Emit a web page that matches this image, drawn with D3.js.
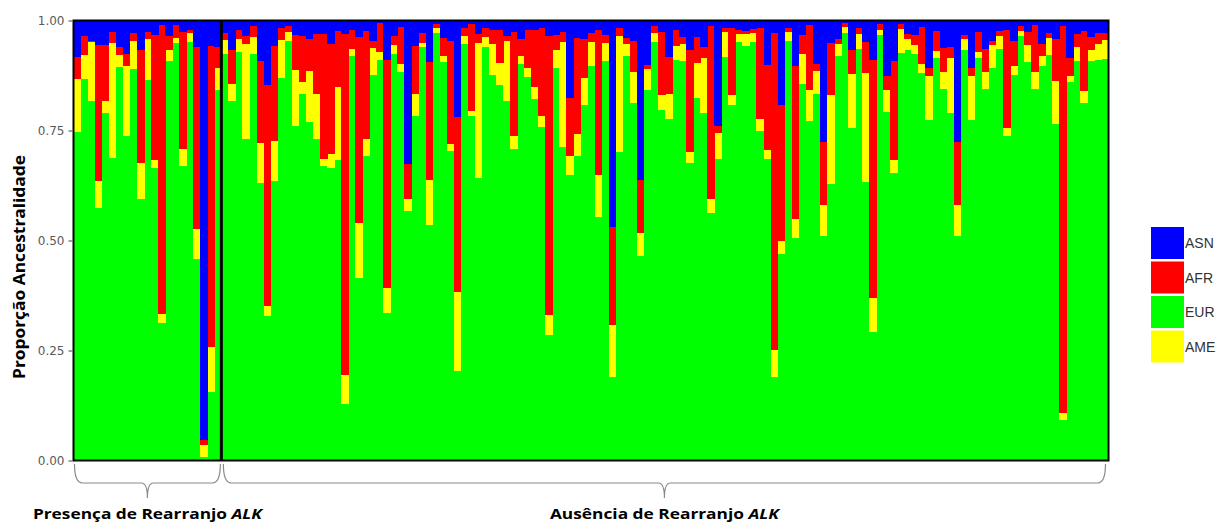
<!DOCTYPE html>
<html>
<head>
<meta charset="utf-8">
<script src="https://cdn.jsdelivr.net/npm/d3@7"></script>
<style>
  html, body { margin: 0; padding: 0; background: #fff; }
  svg { display: block; }
</style>
</head>
<body>
<svg id="chart" width="1228" height="523"></svg>
<script>
// ---------- data (proportions, one value per sample) ----------
const ASN = [
  .084,.036,.046,.055,.055,.027,.061,.076,.029,.068,.027,.033,.010,.036,.011,.025,.021,.061,.954,.057,.061,
  .028,.068,.021,.036,.013,.091,.147,.059,.017,.013,.033,.036,.043,.030,.030,.053,.023,.030,.021,.038,.023,.047,.006,.089,.036,.014,.327,.059,.029,
  .095,.008,.040,.046,.219,.017,.008,.030,.017,.021,.021,.036,.027,.042,.021,.021,.017,.036,.033,.027,.176,.040,.043,.029,.021,
  .033,.469,.017,.040,.046,.363,.101,.013,.027,.084,.021,.037,.066,.038,.061,.013,.240,.017,.017,.021,.023,.019,.017,.101,.029,
  .192,.017,.104,.033,.011,.099,.276,.052,.043,.006,.068,.017,.048,.090,.008,.125,.093,.009,.030,.034,.014,.108,.024,.063,.061,
  .276,.032,.109,.025,.065,.047,.024,.021,.047,.013,.027,.010,.053,.028,.042,.013,.085,.030,.023,.038,.028,.028
];
const AFR = [
  .049,.043,.003,.310,.128,.024,.017,.028,.017,.256,.014,.285,.657,.030,.029,.268,.008,.413,.011,.686,.046,
  .017,.076,.021,.017,.025,.188,.502,.214,.027,.012,.080,.103,.071,.137,.284,.251,.128,.776,.043,.422,.247,.015,.065,.519,.020,.085,.078,.108,.021,
  .268,.009,.040,.234,.397,.019,.198,.021,.021,.032,.075,.010,.236,.038,.087,.129,.201,.633,.033,.021,.132,.218,.088,.019,.331,
  .017,.223,.019,.014,.071,.120,.009,.016,.143,.084,.038,.017,.233,.059,.025,.392,.017,.010,.153,.010,.008,.009,.208,.193,.719,
  .310,.008,.347,.042,.147,.015,.144,.117,.010,.009,.053,.014,.071,.540,.013,.033,.224,.011,.013,.021,.085,.017,.046,.055,.025,
  .144,.011,.017,.046,.053,.008,.011,.223,.056,.010,.029,.106,.027,.011,.095,.879,.040,.030,.137,.028,.025,.017
];
const AME = [
  .120,.053,.134,.062,.027,.261,.028,.158,.065,.081,.095,.017,.021,.025,.011,.038,.020,.068,.027,.101,.052,
  .030,.038,.029,.217,.038,.091,.022,.093,.087,.021,.127,.027,.116,.103,.017,.032,.167,.065,.017,.125,.038,.061,.018,.056,.019,.019,.027,.049,.011,
  .101,.011,.014,.017,.181,.017,.011,.306,.023,.070,.050,.137,.028,.019,.020,.029,.023,.046,.043,.239,.044,.049,.060,.055,.094,
  .043,.118,.262,.027,.070,.053,.048,.021,.034,.057,.030,.038,.024,.080,.125,.033,.058,.055,.023,.019,.028,.021,.027,.020,.062,
  .028,.021,.043,.070,.071,.052,.069,.202,.028,.013,.123,.034,.249,.079,.012,.051,.030,.053,.023,.021,.021,.100,.015,.038,.125,
  .069,.023,.100,.015,.038,.053,.030,.019,.021,.013,.038,.040,.024,.040,.099,.015,.015,.033,.028,.025,.037,.043
];
const EUR = [
  .747,.868,.817,.573,.791,.688,.894,.738,.890,.595,.865,.665,.312,.909,.949,.669,.952,.459,.008,.156,.842,
  .924,.818,.929,.730,.924,.630,.329,.635,.868,.954,.760,.834,.770,.730,.669,.664,.682,.129,.918,.414,.692,.877,.911,.336,.925,.882,.568,.784,.939,
  .536,.972,.906,.703,.203,.947,.783,.643,.939,.877,.854,.817,.709,.901,.872,.821,.759,.285,.891,.713,.648,.692,.808,.897,.555,
  .907,.190,.702,.919,.814,.464,.842,.951,.796,.776,.911,.909,.677,.823,.789,.563,.686,.919,.808,.951,.941,.951,.749,.686,.190,
  .470,.954,.506,.855,.771,.834,.511,.629,.919,.972,.756,.935,.632,.291,.967,.791,.653,.927,.934,.924,.880,.775,.915,.844,.789,
  .511,.934,.774,.914,.844,.892,.935,.737,.876,.964,.906,.844,.896,.921,.764,.093,.860,.906,.812,.909,.910,.911
];
const stackKeys   = ["EUR", "AME", "AFR", "ASN"];          // bottom -> top
const legendKeys  = ["ASN", "AFR", "EUR", "AME"];          // legend order
const colors      = { ASN: "#0000ff", AFR: "#ff0000", EUR: "#00ff00", AME: "#ffff00" };
const groupNames  = ["Presença de Rearranjo", "Ausência de Rearranjo"];
const groupSizes  = [21, 126];
const yTicks      = [0, 0.25, 0.5, 0.75, 1];
const yTitle      = "Proporção Ancestralidade";

(function () {
// ---------- build table ----------
const n = EUR.length;
const samples = d3.range(n);
const rows = samples.map(i => {
  const tot = EUR[i] + AME[i] + AFR[i] + ASN[i];
  return { id: i, EUR: EUR[i] / tot, AME: AME[i] / tot, AFR: AFR[i] / tot, ASN: ASN[i] / tot };
});

const svg = d3.select("#chart");
const pLeft = 73.5, pRight = 1108.5, pTop = 20.5, pBottom = 460.5;

const x = d3.scaleBand().domain(samples).range([pLeft, pRight]).padding(0);
const y = d3.scaleLinear().domain([0, 1]).range([pBottom, pTop]);

const series = d3.stack().keys(stackKeys)(rows);

const gBars = svg.append("g").attr("shape-rendering", "crispEdges");
gBars.selectAll("g.layer")
  .data(series)
  .join("g")
  .attr("class", "layer")
  .attr("fill", d => colors[d.key])
  .selectAll("rect")
  .data(d => d)
  .join("rect")
  .attr("x", d => x(d.data.id))
  .attr("width", x.bandwidth() + 0.6)
  .attr("y", d => y(d[1]))
  .attr("height", d => Math.max(0, y(d[0]) - y(d[1])));

// panel border
svg.append("rect")
  .attr("x", pLeft).attr("y", pTop)
  .attr("width", pRight - pLeft).attr("height", pBottom - pTop)
  .attr("fill", "none").attr("stroke", "#000").attr("stroke-width", 2);

// group divider
const splitX = x(groupSizes[0]);
svg.append("line")
  .attr("x1", splitX).attr("x2", splitX)
  .attr("y1", pTop).attr("y2", pBottom)
  .attr("stroke", "#000").attr("stroke-width", 3);

// y axis
const yAxis = d3.axisLeft(y).tickValues(yTicks).tickFormat(d3.format(".2f")).tickSize(4).tickPadding(4);
const gy = svg.append("g").attr("transform", `translate(${pLeft - 1},0)`).call(yAxis);
gy.select(".domain").remove();
gy.selectAll(".tick line").attr("stroke", "#444");
gy.selectAll(".tick text")
  .attr("fill", "#5a5a5a")
  .style("font-family", "'DejaVu Sans', sans-serif")
  .style("font-size", "12px");

// y title
svg.append("text")
  .attr("transform", "translate(25,267) rotate(-90)")
  .attr("text-anchor", "middle")
  .attr("textLength", 224)
  .attr("lengthAdjust", "spacingAndGlyphs")
  .style("font-family", "'Open Sans', sans-serif")
  .style("font-weight", "700")
  .style("font-size", "16px")
  .attr("fill", "#000")
  .text(yTitle);

// braces + group labels
let start = 0;
groupSizes.forEach((size, gi) => {
  const x0 = x(start) + (gi === 0 ? 1 : 2);
  const x1 = (start + size < n ? x(start + size) - 1 : pRight - 3);
  const xc = (x0 + x1) / 2;
  const yT = 464, yM = 483, yB = 498;
  const p = d3.path();
  p.moveTo(x0, yT);
  p.quadraticCurveTo(x0, yM, x0 + 8, yM);
  p.lineTo(xc - 6, yM);
  p.quadraticCurveTo(xc, yM, xc, yB);
  p.moveTo(xc, yB);
  p.quadraticCurveTo(xc, yM, xc + 6, yM);
  p.lineTo(x1 - 8, yM);
  p.quadraticCurveTo(x1, yM, x1, yT);
  svg.append("path").attr("d", p.toString())
    .attr("fill", "none").attr("stroke", "#8a8a8a").attr("stroke-width", 1.2);

  const t = svg.append("text")
    .attr("x", xc).attr("y", 518.5)
    .attr("text-anchor", "middle")
    .attr("textLength", 229)
    .attr("lengthAdjust", "spacingAndGlyphs")
    .style("font-family", "'Open Sans', sans-serif")
    .style("font-weight", "700")
    .style("font-size", "15px")
    .attr("fill", "#000");
  t.append("tspan").text(groupNames[gi] + " ");
  t.append("tspan").style("font-style", "italic").text("ALK");
  start += size;
});

// legend
const lg = svg.append("g");
legendKeys.forEach((k, i) => {
  const yy = 227 + i * 34.5;
  lg.append("rect").attr("x", 1151).attr("y", yy).attr("width", 33).attr("height", 32)
    .attr("fill", colors[k]);
  lg.append("text").attr("x", 1185).attr("y", yy + 16 + 5)
    .style("font-family", "'Liberation Sans', Arial, sans-serif")
    .style("font-size", "14px")
    .attr("fill", "#333")
    .text(k);
});
})();
</script>
</body>
</html>
